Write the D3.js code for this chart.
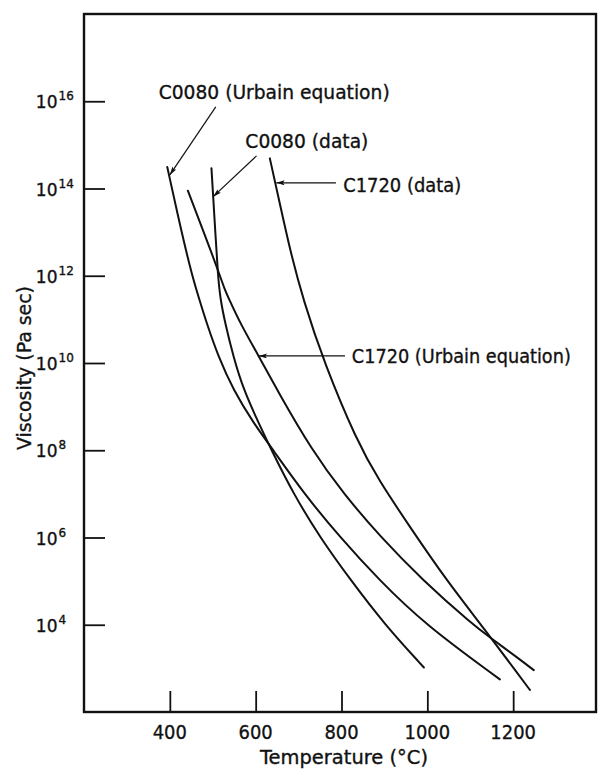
<!DOCTYPE html>
<html>
<head>
<meta charset="utf-8">
<script src="https://cdn.jsdelivr.net/npm/d3@7/dist/d3.min.js"></script>
<style>
  html, body { margin: 0; padding: 0; background: #fff; }
  svg { display: block; }
  text { font-family: "DejaVu Sans", "Liberation Sans", sans-serif; fill: #111; stroke: #111; stroke-width: 0.35px; }
</style>
</head>
<body>
<svg id="chart" width="598" height="770"></svg>
<script>
// Viscosity-temperature curves for C0080 and C1720 glasses (Pa sec vs °C)
const c0080UrbainTemp = [394, 428, 452, 469, 486, 513, 548, 595, 641, 713, 797, 886, 995, 1169];
const c0080UrbainVisc = [3.1e14, 9.3e12, 1.0e12, 2.8e11, 8.1e10, 1.4e10, 2.4e9, 4.2e8, 1.0e8, 1.0e7, 1.0e6, 1.1e5, 1.0e4, 5.6e2];

const c0080DataTemp = [497, 506, 512, 518, 529, 548, 572, 607, 637, 688, 750, 820, 901, 992];
const c0080DataVisc = [2.9e14, 1.0e13, 1.0e12, 2.8e11, 8.1e10, 1.4e10, 2.4e9, 4.2e8, 1.0e8, 1.0e7, 1.0e6, 1.1e5, 1.0e4, 1.05e3];

const c1720UrbainTemp = [442, 510, 528, 539, 564, 607, 650, 731, 805, 892, 987, 1106, 1146, 1216, 1248];
const c1720UrbainVisc = [8.9e13, 1.6e12, 4.7e11, 2.8e11, 8.1e10, 1.45e10, 2.4e9, 1.0e8, 1.0e7, 1.0e6, 1.1e5, 1.0e4, 5.1e3, 1.6e3, 9.1e2];

const c1720DataTemp = [633, 657, 680, 711, 760, 835, 886, 964, 1044, 1127, 1216, 1239];
const c1720DataVisc = [4.9e14, 4.2e13, 3.9e12, 2.75e11, 9.8e9, 1.7e8, 2.1e7, 1.5e6, 1.07e5, 9.5e3, 6.5e2, 3.2e2];

// Axis ticks
const tempTicks = [400, 600, 800, 1000, 1200];
const viscExponents = [4, 6, 8, 10, 12, 14, 16];

// Curve labels: text, label anchor [T, visc], leader start [T, visc], arrow tip [T, visc]
const labelTexts = ["C0080 (Urbain equation)", "C0080 (data)", "C1720 (data)", "C1720 (Urbain equation)"];
const labelAt   = [[374, 1.1e16], [576, 8.7e14], [804, 8.5e13], [824, 9.8e9]];
const leaderFrom = [[507, 7.4e15], [602, 5.6e14], [787, 1.35e14], [808, 1.45e10]];
const leaderTo   = [[400, 2.05e14], [501, 6.5e13], [648, 1.35e14], [607, 1.45e10]];
const labelWidths = [231, 123, 118, 219];

const svg = d3.select("#chart");
const plotLeft = 84, plotRight = 596, plotTop = 14, plotBottom = 712;

const x = d3.scaleLinear().domain([200, 1393]).range([plotLeft, plotRight]);
const y = d3.scaleLog().domain([1e2, 1e18]).range([plotBottom, plotTop]);

// Frame
svg.append("rect")
  .attr("x", x(200)).attr("y", y(1e18))
  .attr("width", x(1393) - x(200)).attr("height", y(1e2) - y(1e18))
  .attr("fill", "none").attr("stroke", "#111").attr("stroke-width", 2.4);

// Inward ticks
const xAxis = d3.axisBottom(x).tickValues(tempTicks).tickSize(-21).tickFormat("");
svg.append("g").attr("transform", `translate(0,${plotBottom})`).call(xAxis)
  .call(g => g.select(".domain").remove())
  .call(g => g.selectAll(".tick line").attr("stroke", "#111").attr("stroke-width", 1.8));

const yAxis = d3.axisLeft(y).tickValues(viscExponents.map(e => Math.pow(10, e))).tickSize(-21).tickFormat("");
svg.append("g").attr("transform", `translate(${plotLeft},0)`).call(yAxis)
  .call(g => g.select(".domain").remove())
  .call(g => g.selectAll(".tick line").attr("stroke", "#111").attr("stroke-width", 1.8));

// X tick labels
svg.append("g").selectAll("text").data(tempTicks).join("text")
  .attr("x", d => x(d)).attr("y", 739)
  .attr("text-anchor", "middle").attr("font-size", 20)
  .attr("textLength", d => String(d).length * 11.4).attr("lengthAdjust", "spacingAndGlyphs")
  .text(d => d);

// Y tick labels: base 10 and superscript exponent
const yLabels = svg.append("g");
yLabels.selectAll("text.base").data(viscExponents).join("text").attr("class", "base")
  .attr("x", 57.5).attr("y", d => y(Math.pow(10, d)) + 7)
  .attr("text-anchor", "end").attr("font-size", 17)
  .text("10");
yLabels.selectAll("text.exp").data(viscExponents).join("text").attr("class", "exp")
  .attr("x", 58.5).attr("y", d => y(Math.pow(10, d)) - 1)
  .attr("font-size", 12)
  .text(d => d);

// Axis titles
svg.append("text").attr("x", 344).attr("y", 764).attr("text-anchor", "middle")
  .attr("font-size", 19).attr("textLength", 168).attr("lengthAdjust", "spacingAndGlyphs")
  .text("Temperature (°C)");
svg.append("text").attr("transform", "translate(31,368) rotate(-90)").attr("text-anchor", "middle")
  .attr("font-size", 19).attr("textLength", 164).attr("lengthAdjust", "spacingAndGlyphs")
  .text("Viscosity (Pa sec)");

// Curves
const series = [
  [c0080UrbainTemp, c0080UrbainVisc],
  [c0080DataTemp, c0080DataVisc],
  [c1720UrbainTemp, c1720UrbainVisc],
  [c1720DataTemp, c1720DataVisc]
];
const line = d3.line().x(d => x(d[0])).y(d => y(d[1])).curve(d3.curveBasis);
svg.append("g").selectAll("path").data(series.map(([t, v]) => t.map((tt, i) => [tt, v[i]]))).join("path")
  .attr("d", line).attr("fill", "none").attr("stroke", "#111")
  .attr("stroke-width", 2).attr("stroke-linecap", "round");

// Arrowhead marker
svg.append("defs").append("marker")
  .attr("id", "arrow").attr("viewBox", "0 0 10 6").attr("refX", 10).attr("refY", 3)
  .attr("markerWidth", 9).attr("markerHeight", 5).attr("markerUnits", "userSpaceOnUse")
  .attr("orient", "auto")
  .append("path").attr("d", "M0,0 L10,3 L0,6 L2,3 Z").attr("fill", "#111");

// Labels and leader lines
const ann = svg.append("g");
labelTexts.forEach((txt, i) => {
  ann.append("line")
    .attr("x1", x(leaderFrom[i][0])).attr("y1", y(leaderFrom[i][1]))
    .attr("x2", x(leaderTo[i][0])).attr("y2", y(leaderTo[i][1]))
    .attr("stroke", "#111").attr("stroke-width", 1.2).attr("marker-end", "url(#arrow)");
  ann.append("text")
    .attr("x", x(labelAt[i][0])).attr("y", y(labelAt[i][1]))
    .attr("font-size", 19).attr("textLength", labelWidths[i]).attr("lengthAdjust", "spacingAndGlyphs")
    .text(txt);
});
</script>
</body>
</html>
